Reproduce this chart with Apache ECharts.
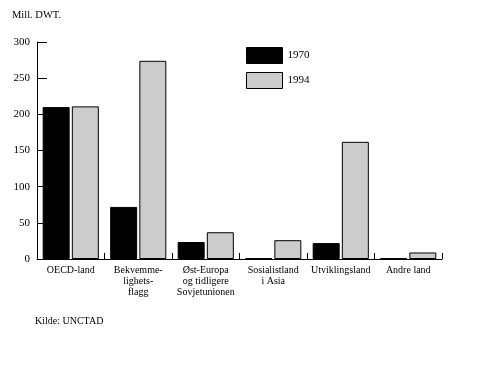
<!DOCTYPE html>
<html><head><meta charset="utf-8">
<script src="https://cdn.jsdelivr.net/npm/echarts@6/dist/echarts.min.js"></script>
<style>html,body{margin:0;padding:0;background:#fff}#c{width:497px;height:365px}</style>
</head><body><div id="c"></div>
<script>
const categories = ["OECD-land", "Bekvemme-\nlighets-\nflagg", "Øst-Europa\nog tidligere\nSovjetunionen", "Sosialistland\ni Asia", "Utviklingsland", "Andre land"];
const values1970 = [210, 72, 23.5, 1, 22, 1];
const values1994 = [211, 274, 37, 26, 162, 9];
const seriesNames = ["1970", "1994"];
const yTicks = [0, 50, 100, 150, 200, 250, 300];
const font = "Liberation Serif";
const chart = echarts.init(document.getElementById('c'), null, {renderer: 'canvas'});
chart.setOption({
  animation: false,
  backgroundColor: '#fff',
  textStyle: {fontFamily: font, color: '#000'},
  grid: {left: 37, right: 55, top: 42, bottom: 106, containLabel: false},
  legend: {
    data: seriesNames, orient: 'vertical', left: 241, top: 42, icon: 'rect',
    itemWidth: 36, itemHeight: 16, itemGap: 8,
    textStyle: {fontFamily: font, fontSize: 11, color: '#000'},
    itemStyle: {borderColor: '#000', borderWidth: 1}
  },
  graphic: [
    {type: 'text', left: 12, top: 10, style: {text: 'Mill. DWT.', font: '10.5px "Liberation Serif"', fill: '#000'}},
    {type: 'text', left: 35, top: 316, style: {text: 'Kilde: UNCTAD', font: '10px "Liberation Serif"', fill: '#000'}}
  ],
  xAxis: {
    type: 'category', data: categories,
    axisLine: {lineStyle: {color: '#000', width: 1}},
    axisTick: {show: true, inside: true, length: 6, lineStyle: {color: '#000'}},
    axisLabel: {interval: 0, fontFamily: font, fontSize: 10, color: '#000', lineHeight: 11, margin: 6}
  },
  yAxis: {
    type: 'value', min: yTicks[0], max: yTicks[yTicks.length - 1], interval: 50,
    splitLine: {show: false},
    axisLine: {show: true, lineStyle: {color: '#000', width: 1}},
    axisTick: {show: true, inside: true, length: 10, lineStyle: {color: '#000'}},
    axisLabel: {fontFamily: font, fontSize: 11, color: '#000', margin: 7}
  },
  series: [
    {name: seriesNames[0], type: 'bar', data: values1970, barWidth: 27, barGap: '8%',
     itemStyle: {color: '#000', borderColor: '#000', borderWidth: 1}},
    {name: seriesNames[1], type: 'bar', data: values1994, barWidth: 27,
     itemStyle: {color: '#cccccc', borderColor: '#000', borderWidth: 1}}
  ]
});
</script></body></html>
